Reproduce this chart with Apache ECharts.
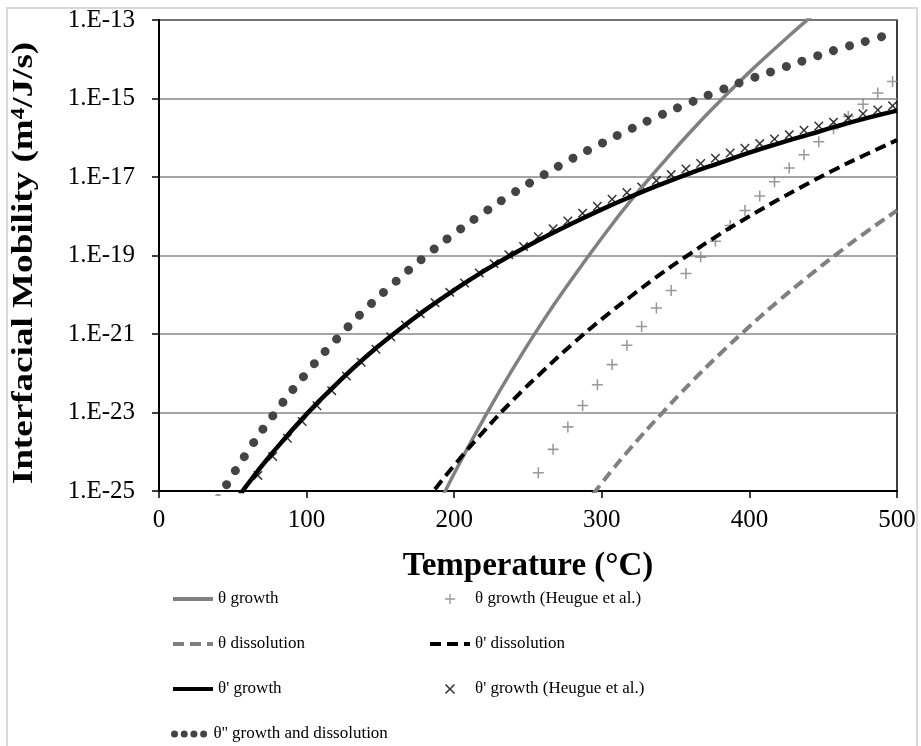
<!DOCTYPE html>
<html>
<head>
<meta charset="utf-8">
<script src="https://cdn.jsdelivr.net/npm/echarts@6/dist/echarts.min.js"></script>
<style>
  html, body { margin: 0; padding: 0; background: #fff; }
  #chart { width: 921px; height: 746px; }
</style>
</head>
<body>
<div id="chart"></div>
<script>
// Interfacial mobility (m^4/J/s) versus temperature (°C)

// θ growth (model)
const tThetaGrowth = [180, 200, 220, 240, 260, 280, 300, 320, 340, 360, 380, 400, 420, 440, 460];
const mThetaGrowth = [8.3e-27, 2.8e-25, 6.9e-24, 1.35e-22, 2.1e-21, 2.6e-20, 2.8e-19, 2.6e-18, 2.0e-17, 1.4e-16, 8.5e-16, 4.7e-15, 2.3e-14, 1.07e-13, 4.5e-13];

// θ dissolution (model)
const tThetaDiss = [280, 300, 320, 340, 360, 380, 400, 420, 440, 460, 480, 500];
const mThetaDiss = [1.7e-26, 1.6e-25, 1.3e-24, 8.9e-24, 5.6e-23, 3.1e-22, 1.55e-21, 7.1e-21, 2.95e-20, 1.15e-19, 4.2e-19, 1.4e-18];

// θ' growth (model)
const tPrimeGrowth = [40, 60, 80, 100, 120, 140, 160, 180, 200, 220, 240, 260, 280, 300, 320, 340, 360, 380, 400, 420, 440, 460, 480, 500];
const mPrimeGrowth = [1.26e-26, 1.48e-25, 1.29e-24, 9.1e-24, 5.2e-23, 2.6e-22, 1.07e-21, 4.0e-21, 1.32e-20, 4.0e-20, 1.1e-19, 2.8e-19, 6.6e-19, 1.5e-18, 3.2e-18, 6.5e-18, 1.26e-17, 2.3e-17, 4.2e-17, 7.2e-17, 1.2e-16, 2.0e-16, 3.2e-16, 4.9e-16];

// θ' dissolution (model)
const tPrimeDiss = [180, 200, 220, 240, 260, 280, 300, 320, 340, 360, 380, 400, 420, 440, 460, 480, 500];
const mPrimeDiss = [5.1e-26, 4.5e-25, 3.3e-24, 2.1e-23, 1.12e-22, 5.5e-22, 2.4e-21, 9.3e-21, 3.4e-20, 1.12e-19, 3.5e-19, 1.0e-18, 2.7e-18, 6.9e-18, 1.7e-17, 3.9e-17, 8.7e-17];

// θ'' growth and dissolution (model)
const tDoublePrime = [40, 60, 80, 100, 120, 140, 160, 180, 200, 220, 240, 260, 280, 300, 320, 340, 360, 380, 400, 420, 440, 460, 480, 500];
const mDoublePrime = [6.3e-26, 1.0e-24, 1.15e-23, 1.02e-22, 7.2e-22, 4.3e-21, 2.1e-20, 9.3e-20, 3.6e-19, 1.23e-18, 3.9e-18, 1.1e-17, 2.95e-17, 7.2e-17, 1.7e-16, 3.8e-16, 7.9e-16, 1.6e-15, 3.1e-15, 5.6e-15, 1.02e-14, 1.8e-14, 2.95e-14, 4.9e-14];

// θ growth (Heugue et al.)
const tHeugueTheta = [257, 267, 277, 287, 297, 307, 317, 327, 337, 347, 357, 367, 377, 387, 397, 407, 417, 427, 437, 447, 457, 467, 477, 487, 497];
const mHeugueTheta = [2.9e-25, 1.15e-24, 4.3e-24, 1.5e-23, 5.1e-23, 1.66e-22, 5.2e-22, 1.55e-21, 4.6e-21, 1.29e-20, 3.5e-20, 9.1e-20, 2.3e-19, 5.8e-19, 1.4e-18, 3.3e-18, 7.6e-18, 1.7e-17, 3.7e-17, 7.9e-17, 1.7e-16, 3.5e-16, 7.1e-16, 1.38e-15, 2.7e-15];

// θ' growth (Heugue et al.)
const tHeuguePrime = [67, 77, 87, 97, 107, 117, 127, 137, 147, 157, 167, 177, 187, 197, 207, 217, 227, 237, 247, 257, 267, 277, 287, 297, 307, 317, 327, 337, 347, 357, 367, 377, 387, 397, 407, 417, 427, 437, 447, 457, 467, 477, 487, 497];
const mHeuguePrime = [2.5e-25, 7.6e-25, 2.2e-24, 5.9e-24, 1.48e-23, 3.6e-23, 8.5e-23, 1.9e-22, 4.1e-22, 8.5e-22, 1.7e-21, 3.3e-21, 6.3e-21, 1.15e-20, 2.0e-20, 3.6e-20, 6.2e-20, 1.05e-19, 1.7e-19, 3.0e-19, 4.8e-19, 7.6e-19, 1.2e-18, 1.8e-18, 2.7e-18, 4.0e-18, 5.6e-18, 8.1e-18, 1.15e-17, 1.6e-17, 2.2e-17, 3.0e-17, 4.1e-17, 5.4e-17, 7.1e-17, 9.3e-17, 1.2e-16, 1.55e-16, 2.0e-16, 2.5e-16, 3.2e-16, 4.1e-16, 5.1e-16, 6.5e-16];

// Axis ranges: temperature in °C, mobility as powers of ten
const xTicks = { min: 0, max: 500, step: 100 };
const yExponents = { min: -25, max: -13, step: 2 };

const FONT = 'Liberation Serif';
const pairs = (xs, ys) => xs.map((x, i) => [x, ys[i]]);
// "+" and "×" marker outlines
const plusPath = 'path://M4.3,0h1.4v10h-1.4z M0,4.3h10v1.4h-10z';
const crossPath = 'path://M0,1.1L1.1,0L5,3.9L8.9,0L10,1.1L6.1,5L10,8.9L8.9,10L5,6.1L1.1,10L0,8.9L3.9,5Z';

const legendText = { fontFamily: FONT, fontSize: 17, color: '#000', lineHeight: 20 };
const noSymbol = { opacity: 0 };

const chart = echarts.init(document.getElementById('chart'), null, { renderer: 'canvas' });

const option = {
  animation: false,
  backgroundColor: '#fff',
  grid: {
    left: 159, right: 24, top: 20, bottom: 255,
    show: true, borderColor: '#000', borderWidth: 1.5
  },
  xAxis: {
    type: 'value',
    min: xTicks.min, max: xTicks.max, interval: xTicks.step,
    axisLine: { show: true, onZero: false, lineStyle: { color: '#000', width: 2 } },
    axisTick: { show: true, length: 7, lineStyle: { color: '#000', width: 1.5 } },
    axisLabel: { fontFamily: FONT, fontSize: 25, color: '#000', margin: 17 },
    splitLine: { show: false }
  },
  yAxis: [
    {
      // logarithmic scale that positions every series
      type: 'log', logBase: 10,
      min: Math.pow(10, yExponents.min), max: Math.pow(10, yExponents.max),
      axisLine: { show: false }, axisTick: { show: false },
      axisLabel: { show: false }, splitLine: { show: false }
    },
    {
      // decade labels, ticks and grid lines every two decades
      type: 'value', position: 'left',
      min: yExponents.min, max: yExponents.max, interval: yExponents.step,
      axisLine: { show: true, onZero: false, lineStyle: { color: '#000', width: 2 } },
      axisTick: { show: true, length: 7, lineStyle: { color: '#000', width: 1.5 } },
      axisLabel: {
        fontFamily: FONT, fontSize: 25, color: '#000', margin: 24,
        formatter: v => '1.E' + v
      },
      splitLine: { show: true, lineStyle: { color: '#878787', width: 1.5 } }
    }
  ],
  legend: [
    {
      orient: 'vertical', left: 171, top: 589, padding: 0,
      itemWidth: 40, itemHeight: 14, itemGap: 25, selectedMode: false,
      textStyle: legendText, lineStyle: { width: 4 },
      data: [
        { name: 'θ growth', itemStyle: noSymbol },
        { name: 'θ dissolution', itemStyle: noSymbol },
        { name: "θ' growth", itemStyle: noSymbol }
      ]
    },
    {
      orient: 'vertical', left: 171, top: 724, padding: 0,
      itemWidth: 34, itemHeight: 14, itemGap: 25, selectedMode: false,
      textStyle: legendText,
      data: [{
        name: "θ'' growth and dissolution", itemStyle: noSymbol,
        lineStyle: { width: 7, type: [0.01, 9.7], cap: 'round' }
      }]
    },
    {
      orient: 'vertical', left: 428, top: 589, padding: 0,
      itemWidth: 40, itemHeight: 10, itemGap: 25, selectedMode: false,
      textStyle: legendText, lineStyle: { width: 4 },
      data: [
        'θ growth (Heugue et al.)',
        { name: "θ' dissolution", itemStyle: noSymbol },
        { name: "θ' growth (Heugue et al.)", icon: crossPath }
      ]
    }
  ],
  graphic: [
    {
      type: 'rect', silent: true, z: -10,
      shape: { x: 7, y: 8, width: 910, height: 800 },
      style: { fill: 'none', stroke: '#d9d9d9', lineWidth: 2 }
    },
    {
      type: 'text', x: 528, y: 566, silent: true,
      style: {
        text: 'Temperature (°C)', fontFamily: FONT, fontWeight: 'bold', fontSize: 33,
        fill: '#000', align: 'center', verticalAlign: 'middle'
      }
    },
    {
      type: 'text', x: 25, y: 263, rotation: Math.PI / 2, scaleX: 1.28, silent: true,
      style: {
        text: '{t|Interfacial Mobility (m}{s|4}{t|/J/s)}',
        align: 'center', verticalAlign: 'middle', fill: '#000',
        rich: {
          t: { fontFamily: FONT, fontWeight: 'bold', fontSize: 29, fill: '#000' },
          s: { fontFamily: FONT, fontWeight: 'bold', fontSize: 18, fill: '#000', verticalAlign: 'top' }
        }
      }
    }
  ],
  series: [
    {
      name: 'θ growth', type: 'line', smooth: true, symbol: 'none', silent: true,
      yAxisIndex: 0, color: '#808080', data: pairs(tThetaGrowth, mThetaGrowth),
      lineStyle: { color: '#808080', width: 3.5 }
    },
    {
      name: 'θ dissolution', type: 'line', smooth: true, symbol: 'none', silent: true,
      yAxisIndex: 0, color: '#808080', data: pairs(tThetaDiss, mThetaDiss),
      lineStyle: { color: '#808080', width: 4, type: [11, 6] }
    },
    {
      name: "θ' growth", type: 'line', smooth: true, symbol: 'none', silent: true,
      yAxisIndex: 0, color: '#000', data: pairs(tPrimeGrowth, mPrimeGrowth),
      lineStyle: { color: '#000', width: 4.5 }
    },
    {
      name: "θ' dissolution", type: 'line', smooth: true, symbol: 'none', silent: true,
      yAxisIndex: 0, color: '#000', data: pairs(tPrimeDiss, mPrimeDiss),
      lineStyle: { color: '#000', width: 4, type: [11, 6] }
    },
    {
      name: "θ'' growth and dissolution", type: 'line', smooth: true, symbol: 'none', silent: true,
      yAxisIndex: 0, color: '#444', data: pairs(tDoublePrime, mDoublePrime),
      lineStyle: { color: '#444', width: 9, type: [0.01, 16.6], cap: 'round' }
    },
    {
      name: 'θ growth (Heugue et al.)', type: 'scatter', silent: true,
      yAxisIndex: 0, symbol: plusPath, symbolSize: 11, color: '#808080',
      itemStyle: { color: '#808080' },
      data: pairs(tHeugueTheta, mHeugueTheta)
    },
    {
      name: "θ' growth (Heugue et al.)", type: 'scatter', silent: true,
      yAxisIndex: 0, symbol: crossPath, symbolSize: 9.5, color: '#000',
      itemStyle: { color: '#000' },
      data: pairs(tHeuguePrime, mHeuguePrime)
    }
  ]
};

chart.setOption(option);
</script>
</body>
</html>
